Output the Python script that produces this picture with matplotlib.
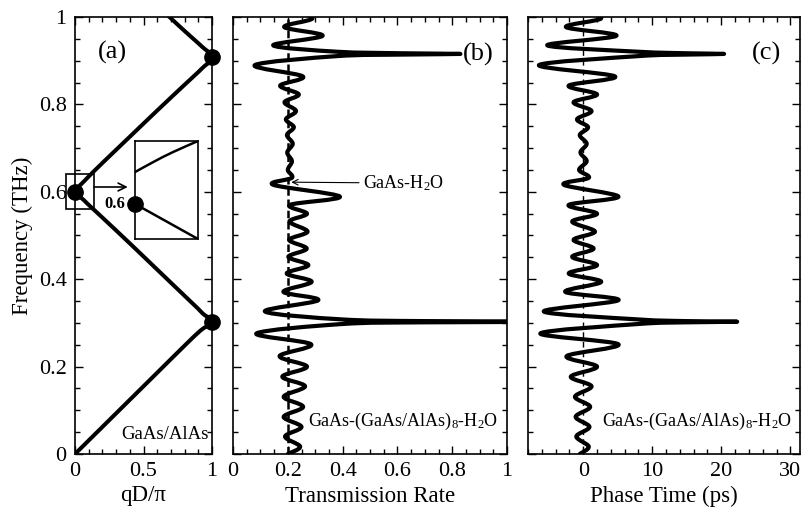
import numpy as np
import matplotlib
matplotlib.use("Agg")
import matplotlib.pyplot as plt
from matplotlib.path import Path
from matplotlib.patches import PathPatch, Rectangle
from matplotlib.ticker import MultipleLocator, FixedLocator, FuncFormatter

plt.rcParams['font.family'] = ['Liberation Serif', 'DejaVu Serif']
plt.rcParams['mathtext.fontset'] = 'custom'
plt.rcParams['mathtext.rm'] = 'Liberation Serif'
plt.rcParams['mathtext.it'] = 'Liberation Serif:italic'
plt.rcParams['mathtext.bf'] = 'Liberation Serif:bold'

# ---------------- data: panel (a) dispersion ----------------
band1_q = [0.0, 0.2, 0.4, 0.6, 0.8, 0.9, 0.95, 1.0]
band1_f = [0.0, 0.062, 0.124, 0.186, 0.248, 0.278, 0.290, 0.295]
band2_q = [1.0, 0.95, 0.9, 0.8, 0.6, 0.4, 0.2, 0.1, 0.05, 0.0]
band2_f = [0.311, 0.317, 0.332, 0.362, 0.422, 0.482, 0.541, 0.570, 0.585, 0.596]
band3_q = [0.0, 0.05, 0.1, 0.2, 0.4, 0.6, 0.8, 0.9, 0.95, 1.0]
band3_f = [0.604, 0.619, 0.635, 0.666, 0.726, 0.786, 0.845, 0.874, 0.889, 0.900]
band4_q = [1.0, 0.95, 0.9, 0.8, 0.7, 0.65]
band4_f = [0.915, 0.926, 0.940, 0.968, 0.997, 1.012]
dot_q = [0.0, 1.0, 1.0]
dot_f = [0.600, 0.303, 0.908]

inset_up_q = [0.0, 0.03, 0.06, 0.1]
inset_up_f = [0.6040, 0.6053, 0.6065, 0.6079]
inset_lo_q = [0.0, 0.05, 0.1]
inset_lo_f = [0.6000, 0.5978, 0.5956]

# ---------------- data: panels (b) and (c) ----------------
freq = [0.000, 0.017, 0.040, 0.062, 0.085, 0.108, 0.131, 0.155, 0.177, 0.200, 0.224, 0.251, 0.276,
        0.2975, 0.3013, 0.3027, 0.3041, 0.3079,
        0.326, 0.352, 0.371, 0.394, 0.413, 0.432, 0.451, 0.470, 0.490, 0.509, 0.532, 0.550, 0.570, 0.589,
        0.616, 0.632, 0.650, 0.670, 0.690, 0.710, 0.730, 0.748, 0.766, 0.785, 0.805, 0.823, 0.843, 0.864, 0.890,
        0.9105, 0.9140, 0.9155, 0.9170, 0.9205,
        0.935, 0.957, 0.977, 0.997, 1.018]
trans = [0.200, 0.245, 0.190, 0.250, 0.185, 0.256, 0.185, 0.263, 0.180, 0.270, 0.170, 0.285, 0.086,
         0.40, 0.70, 1.25, 0.70, 0.40,
         0.117, 0.311, 0.184, 0.287, 0.196, 0.275, 0.202, 0.269, 0.205, 0.272, 0.206, 0.270, 0.208, 0.390,
         0.147, 0.215, 0.200, 0.215, 0.198, 0.218, 0.197, 0.222, 0.193, 0.230, 0.188, 0.240, 0.172, 0.255, 0.080,
         0.38, 0.62, 0.83, 0.62, 0.38,
         0.147, 0.327, 0.187, 0.290, 0.200]
phase = [-0.5, 0.8, -1.0, 0.9, -1.1, 1.0, -1.2, 1.2, -1.8, 2.0, -2.4, 5.1, -6.2,
         8.0, 15.0, 22.3, 15.0, 8.0,
         -5.7, 5.1, -2.6, 2.6, -2.1, 2.0, -1.6, 1.5, -1.4, 1.7, -1.6, 2.0, -2.1, 5.1,
         -2.8, 0.8, -0.6, 0.5, -0.4, 0.5, -0.5, 0.7, -0.9, 1.2, -1.4, 2.0, -2.1, 4.6, -6.4,
         8.0, 15.0, 20.4, 15.0, 8.0,
         -5.2, 4.8, -2.5, 2.6, -1.0]
T_ref = 0.2      # GaAs-H2O transmission
tau_ref = 0.0

freq_ticks = [0, 0.2, 0.4, 0.6, 0.8, 1.0]
qa_ticks = [0, 0.5, 1.0]
tb_ticks = [0, 0.2, 0.4, 0.6, 0.8, 1.0]
tc_ticks = [0, 10, 20, 30]


def smooth_path(xs, ys):
    pts = np.column_stack([xs, ys]).astype(float)
    n = len(pts)
    verts = [pts[0]]
    codes = [Path.MOVETO]
    for i in range(n - 1):
        p0 = pts[i - 1] if i > 0 else pts[i]
        p1 = pts[i]
        p2 = pts[i + 1]
        p3 = pts[i + 2] if i + 2 < n else pts[i + 1]
        c1 = p1 + (p2 - p0) / 6.0
        c2 = p2 - (p3 - p1) / 6.0
        verts += [c1, c2, p2]
        codes += [Path.CURVE4] * 3
    return Path(np.array(verts), codes)


def add_curve(ax, xs, ys, lw=3.0):
    patch = PathPatch(smooth_path(xs, ys), fill=False, lw=lw, ec='black',
                      joinstyle='round', capstyle='round')
    ax.add_patch(patch)
    return patch


fmt = FuncFormatter(lambda v, p: '%g' % v)

fig = plt.figure(figsize=(8.01, 5.15), dpi=100)
bot, hgt = 1 - 454 / 515, 437 / 515
ax_a = fig.add_axes([75 / 801, bot, 137 / 801, hgt])
ax_b = fig.add_axes([233 / 801, bot, 274 / 801, hgt])
ax_c = fig.add_axes([528 / 801, bot, 272 / 801, hgt])

for ax in (ax_a, ax_b, ax_c):
    ax.set_ylim(0, 1)
    ax.yaxis.set_major_locator(FixedLocator(freq_ticks))
    ax.yaxis.set_minor_locator(MultipleLocator(0.05))
    ax.yaxis.set_major_formatter(fmt)
    ax.xaxis.set_major_formatter(fmt)
    ax.tick_params(which='both', direction='in', top=True, right=True, width=1.0,
                   labelsize=16, pad=6)
    ax.tick_params(which='major', length=6)
    ax.tick_params(which='minor', length=3.5)
    for s in ax.spines.values():
        s.set_linewidth(1.2)

# ---------------- (a) ----------------
ax_a.set_xlim(0, 1)
ax_a.xaxis.set_major_locator(FixedLocator(qa_ticks))
ax_a.xaxis.set_minor_locator(MultipleLocator(0.1))
for q, f in ((band1_q, band1_f), (band2_q, band2_f), (band3_q, band3_f), (band4_q, band4_f)):
    add_curve(ax_a, q, f, lw=2.9)
ax_a.plot(dot_q, dot_f, 'o', color='black', ms=11, clip_on=False, zorder=5)
ax_a.set_xlabel('qD/π', fontsize=16.5, labelpad=3)
ax_a.set_ylabel('Frequency (THz)', fontsize=16.5, labelpad=4)
ax_a.text(0.27, 0.92, '(a)', fontsize=19, ha='center', va='center')
ax_a.text(0.975, 0.045, 'GaAs/AlAs', fontsize=13.5, ha='right', va='center')
ax_a.add_patch(Rectangle((-0.066, 0.561), 0.205, 0.080, fill=False, lw=1.2,
                         ec='black', clip_on=False))
ax_a.annotate('', xy=(0.385, 0.611), xytext=(0.139, 0.611),
              arrowprops=dict(arrowstyle='->', lw=1.2, color='black',
                              shrinkA=0, shrinkB=0, mutation_scale=14))

ax_in = fig.add_axes([135 / 801, 1 - 239 / 515, 63 / 801, 98 / 515])
ax_in.set_xlim(0, 0.1)
ax_in.set_ylim(0.5956, 0.6079)
ax_in.set_xticks([])
ax_in.set_yticks([])
for s in ax_in.spines.values():
    s.set_linewidth(1.2)
add_curve(ax_in, inset_up_q, inset_up_f, lw=1.8)
add_curve(ax_in, inset_lo_q, inset_lo_f, lw=1.8)
ax_in.plot([inset_lo_q[0]], [inset_lo_f[0]], 'o', color='black', ms=11, clip_on=False, zorder=5)
ax_in.annotate('0.6', xy=(inset_lo_q[0], inset_lo_f[0]), xytext=(-7, 0),
               textcoords='offset points', ha='right', va='center',
               fontsize=12, fontweight='bold', annotation_clip=False)

# ---------------- (b) ----------------
ax_b.set_xlim(0, 1)
ax_b.xaxis.set_major_locator(FixedLocator(tb_ticks))
ax_b.xaxis.set_minor_locator(MultipleLocator(0.05))
ax_b.tick_params(labelleft=False)
ax_b.axvline(T_ref, color='black', lw=1.8, ls=(0, (3, 1.5)), zorder=1)
add_curve(ax_b, trans, freq, lw=3.0)
ax_b.set_xlabel('Transmission Rate', fontsize=16.5, labelpad=3)
ax_b.text(0.895, 0.915, '(b)', fontsize=19, ha='center', va='center')
ax_b.text(0.967, 0.075, r'GaAs-(GaAs/AlAs)$_8$-H$_2$O', fontsize=13, ha='right', va='center')
ax_b.annotate(r'GaAs-H$_2$O', xy=(0.213, 0.622), xytext=(0.475, 0.620),
              fontsize=13, ha='left', va='center',
              arrowprops=dict(arrowstyle='->', lw=0.8, color='black',
                              shrinkA=1, shrinkB=0, mutation_scale=10))

# ---------------- (c) ----------------
ax_c.set_xlim(-8, 31.4)
ax_c.xaxis.set_major_locator(FixedLocator(tc_ticks))
ax_c.xaxis.set_minor_locator(MultipleLocator(2))
ax_c.tick_params(labelleft=False)
ax_c.axvline(tau_ref, color='black', lw=1.0, ls=(0, (4, 3)), zorder=1)
add_curve(ax_c, phase, freq, lw=3.0)
ax_c.set_xlabel('Phase Time (ps)', fontsize=16.5, labelpad=3)
ax_c.text(26.6, 0.917, '(c)', fontsize=19, ha='center', va='center')
ax_c.text(30.2, 0.075, r'GaAs-(GaAs/AlAs)$_8$-H$_2$O', fontsize=13, ha='right', va='center')

fig.savefig('out.png', dpi=100)
